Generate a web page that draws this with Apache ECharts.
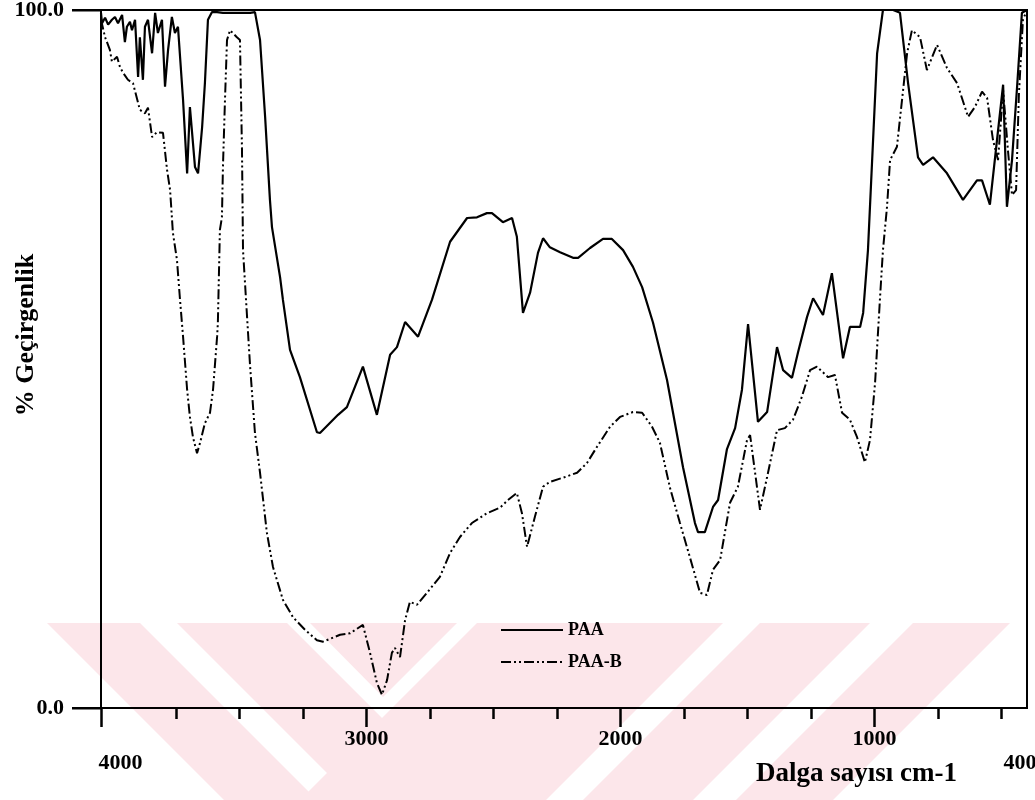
<!DOCTYPE html>
<html>
<head>
<meta charset="utf-8">
<title>PAA / PAA-B FTIR</title>
<script src="https://cdn.jsdelivr.net/npm/echarts@6/dist/echarts.min.js"></script>
<style>
  html, body { margin: 0; padding: 0; background: #fff; }
  #chart { width: 1035px; height: 800px; }
</style>
</head>
<body>
<div id="chart"></div>
<script>
// FTIR spectra: [wavenumber (cm-1), transmittance (%)]
const paa = [
  [4045,99.6],[4041,98.1],[4029,98.9],[4017,97.9],[4002,98.6],[3990,99.0],[3978,98.1],[3962,99.3],
  [3951,95.4],[3943,97.6],[3931,98.3],[3923,97.1],[3911,98.6],[3899,90.4],[3892,96.1],[3880,90.0],
  [3872,97.6],[3860,98.6],[3844,93.8],[3832,99.6],[3821,96.7],[3805,98.6],[3793,89.0],[3781,94.3],
  [3766,99.0],[3754,96.7],[3742,97.6],[3722,87.1],[3706,76.6],[3695,86.1],[3675,77.5],[3663,76.6],
  [3647,83.2],[3636,89.5],[3624,98.6],[3608,99.7],[3588,99.7],[3565,99.6],[3458,99.6],[3439,99.7],
  [3419,95.7],[3399,84.7],[3380,72.8],[3372,68.9],[3340,61.7],[3329,58.5],[3301,51.3],[3262,47.4],
  [3195,39.5],[3183,39.4],[3112,42.0],[3077,43.1],[3014,48.9],[2959,42.0],[2907,50.6],[2880,51.7],
  [2848,55.3],[2797,53.2],[2742,58.5],[2671,66.8],[2604,70.2],[2565,70.3],[2526,70.9],[2506,70.9],
  [2463,69.6],[2427,70.2],[2408,67.5],[2384,56.6],[2356,59.5],[2325,65.2],[2305,67.3],[2278,66.0],
  [2238,65.3],[2187,64.5],[2167,64.5],[2120,65.9],[2069,67.2],[2034,67.2],[1990,65.6],[1951,63.2],
  [1915,60.3],[1872,55.2],[1817,47.0],[1754,34.5],[1707,26.5],[1695,25.2],[1668,25.2],[1636,28.8],
  [1616,29.8],[1581,37.1],[1549,40.1],[1522,45.6],[1498,55.0],[1459,41.0],[1423,42.4],[1384,51.7],
  [1360,48.4],[1325,47.3],[1301,51.0],[1266,56.0],[1242,58.7],[1203,56.3],[1168,62.3],[1124,50.1],
  [1097,54.6],[1057,54.6],[1045,56.6],[1026,65.6],[990,93.8],[967,100],[927,100],[900,99.6],
  [868,89.5],[829,78.9],[809,77.8],[770,78.9],[715,76.6],[652,72.8],[597,75.6],[577,75.6],
  [546,72.1],[518,81.4],[494,89.3],[479,71.8],[459,78.5],[439,89.0],[420,99.6],[400,100]
];

const paaB = [
  [4045,98.6],[4029,96.1],[4010,94.3],[4002,92.6],[3982,93.3],[3970,91.8],[3958,91.0],[3939,90.0],
  [3919,89.5],[3892,85.7],[3872,85.2],[3860,86.0],[3844,81.8],[3825,82.5],[3801,82.4],[3785,77.1],
  [3773,74.2],[3762,68.1],[3746,64.2],[3734,58.5],[3722,53.2],[3706,45.6],[3695,41.7],[3683,38.8],
  [3667,36.5],[3655,38.0],[3636,40.8],[3616,42.3],[3604,45.6],[3588,53.2],[3585,55.2],[3577,68.5],
  [3569,70.3],[3565,77.5],[3557,87.1],[3549,95.7],[3537,97.1],[3510,96.1],[3498,95.7],[3490,79.9],
  [3486,65.6],[3470,56.0],[3458,48.9],[3439,39.4],[3419,33.7],[3392,25.1],[3368,20.2],[3329,15.5],
  [3289,13.0],[3242,11.2],[3195,9.7],[3171,9.5],[3104,10.5],[3065,10.7],[3014,11.9],[2986,7.9],
  [2959,3.6],[2939,1.9],[2919,4.0],[2900,7.9],[2888,8.6],[2868,7.3],[2848,12.6],[2829,15.2],
  [2801,14.8],[2762,16.5],[2711,18.8],[2671,22.2],[2632,24.5],[2585,26.5],[2526,27.9],[2474,28.7],
  [2443,29.8],[2408,30.8],[2388,27.9],[2368,23.1],[2337,27.4],[2305,31.7],[2278,32.4],[2226,33.0],
  [2171,33.7],[2132,35.1],[2093,37.4],[2041,40.3],[2002,41.7],[1951,42.4],[1915,42.3],[1876,40.3],
  [1845,38.0],[1805,31.5],[1766,26.5],[1727,21.6],[1687,16.5],[1660,16.2],[1636,19.8],[1608,21.2],
  [1569,29.4],[1538,31.7],[1502,38.4],[1490,39.1],[1451,28.4],[1423,33.1],[1384,39.8],[1353,40.1],
  [1321,41.3],[1286,44.6],[1254,48.4],[1227,48.9],[1183,47.4],[1156,47.7],[1128,42.3],[1097,41.3],
  [1069,38.8],[1038,35.2],[1018,38.4],[998,46.6],[979,58.5],[967,65.6],[951,71.8],[939,78.5],
  [912,80.4],[892,87.1],[872,93.8],[853,97.1],[821,96.1],[794,91.4],[754,95.0],[715,91.7],
  [675,89.5],[632,84.7],[605,86.1],[577,88.3],[557,87.4],[534,81.4],[514,78.5],[494,88.5],
  [475,79.9],[459,73.5],[443,74.2],[432,87.8],[416,98.6],[400,100]
];

// axis ticks and labels
const minorTicks = [3750, 3500, 3250, 2750, 2500, 2250, 1750, 1500, 1250, 750, 500];
const majorTicks = [4045, 3000, 2000, 1000];
const midLabels = [3000, 2000, 1000];
const endLabels = [4000, 400];

const serif = '"Liberation Serif", "DejaVu Serif", serif';
const ink = '#000';

// plot box layout (px)
const CHART_H = 800;
const GRID_LEFT = 101, GRID_RIGHT = 8, GRID_TOP = 10, GRID_BOTTOM = 92;
const Y_TICK_LEN = 29;

// faint diagonal background stripes
const stripeColor = '#fce6ea';
const stripes = [
  [[47,623],[140,623],[317,800],[224,800]],
  [[177,623],[287,623],[464,800],[354,800]],
  [[310,623],[457,623],[383,697]],
  [[477,623],[723,623],[546,800],[300,800]],
  [[760,623],[870,623],[693,800],[583,800]],
  [[913,623],[1010,623],[833,800],[736,800]]
];

const chart = echarts.init(document.getElementById('chart'), null, { renderer: 'canvas' });

const baseX = {
  type: 'value', gridIndex: 0, position: 'bottom', inverse: true,
  min: 400, max: 4045, splitLine: { show: false }
};
const labelFont = { fontFamily: serif, fontWeight: 'bold', fontSize: 22, color: ink };

const stripeGraphics = stripes.map(pts => ({
  type: 'polygon', silent: true, z: -10,
  shape: { points: pts },
  style: { fill: stripeColor }
}));
// outward tick marks at the top (100) and bottom (0) ends of the transmittance axis
const yEndTicks = [GRID_TOP, CHART_H - GRID_BOTTOM].map(py => ({
  type: 'rect', silent: true, z: 100,
  shape: { x: GRID_LEFT - Y_TICK_LEN, y: py - 1, width: Y_TICK_LEN, height: 2.5 },
  style: { fill: ink }
}));

chart.setOption({
  backgroundColor: '#fff',
  animation: false,
  graphic: { elements: stripeGraphics.concat(yEndTicks) },
  title: {
    text: 'Dalga sayısı cm-1',
    left: 756, top: 761, padding: 0,
    textStyle: { fontFamily: serif, fontWeight: 'bold', fontSize: 27, color: ink }
  },
  legend: {
    data: ['PAA', 'PAA-B'],
    orient: 'vertical', left: 500, top: 621, padding: 0,
    itemWidth: 62, itemHeight: 14, itemGap: 14,
    itemStyle: { opacity: 0 },
    textStyle: { fontFamily: serif, fontWeight: 'bold', fontSize: 18, color: ink }
  },
  grid: {
    left: GRID_LEFT, right: GRID_RIGHT, top: GRID_TOP, bottom: GRID_BOTTOM,
    containLabel: false, outerBoundsMode: 'none',
    show: true, borderColor: ink, borderWidth: 2, backgroundColor: 'transparent'
  },
  xAxis: [
    Object.assign({}, baseX, {
      axisLine: { show: true, onZero: false, lineStyle: { color: ink, width: 2 } },
      axisTick: { show: true, customValues: minorTicks, length: 11, lineStyle: { color: ink, width: 2.5 } },
      axisLabel: Object.assign({ customValues: midLabels, margin: 20, formatter: v => String(v) }, labelFont)
    }),
    Object.assign({}, baseX, {
      axisLine: { show: false },
      axisTick: { show: true, customValues: majorTicks, length: 19, lineStyle: { color: ink, width: 2.5 } },
      axisLabel: Object.assign({
        customValues: endLabels, margin: 44, showMinLabel: true, showMaxLabel: true,
        formatter: v => (v === 4000 ? '{l|4000}' : '{r|400}'),
        rich: {
          l: Object.assign({ padding: [0, 0, 0, 16] }, labelFont),
          r: Object.assign({ padding: [0, 14, 0, 0] }, labelFont)
        }
      }, labelFont)
    })
  ],
  yAxis: {
    type: 'value', min: 0, max: 100, interval: 100,
    name: '% Geçirgenlik', nameLocation: 'middle', nameRotate: 90, nameGap: 62,
    nameMoveOverlap: false,
    nameTextStyle: { fontFamily: serif, fontWeight: 'bold', fontSize: 26, color: ink, padding: [0, 0, 0, 48] },
    axisLine: { show: true, lineStyle: { color: ink, width: 2 } },
    axisTick: { show: true, length: Y_TICK_LEN, lineStyle: { color: ink, width: 2 } },
    axisLabel: Object.assign({ margin: 37, formatter: v => v.toFixed(1) }, labelFont),
    splitLine: { show: false }
  },
  series: [
    {
      name: 'PAA', type: 'line', xAxisIndex: 0, data: paa,
      symbol: 'none', showSymbol: false, smooth: false, z: 3,
      lineStyle: { color: ink, width: 2.2, type: 'solid' },
      itemStyle: { color: ink }
    },
    {
      name: 'PAA-B', type: 'line', xAxisIndex: 0, data: paaB,
      symbol: 'none', showSymbol: false, smooth: false, z: 3,
      lineStyle: { color: ink, width: 2, type: [10, 3, 2, 3, 2, 3] },
      itemStyle: { color: ink }
    }
  ]
});
</script>
</body>
</html>
